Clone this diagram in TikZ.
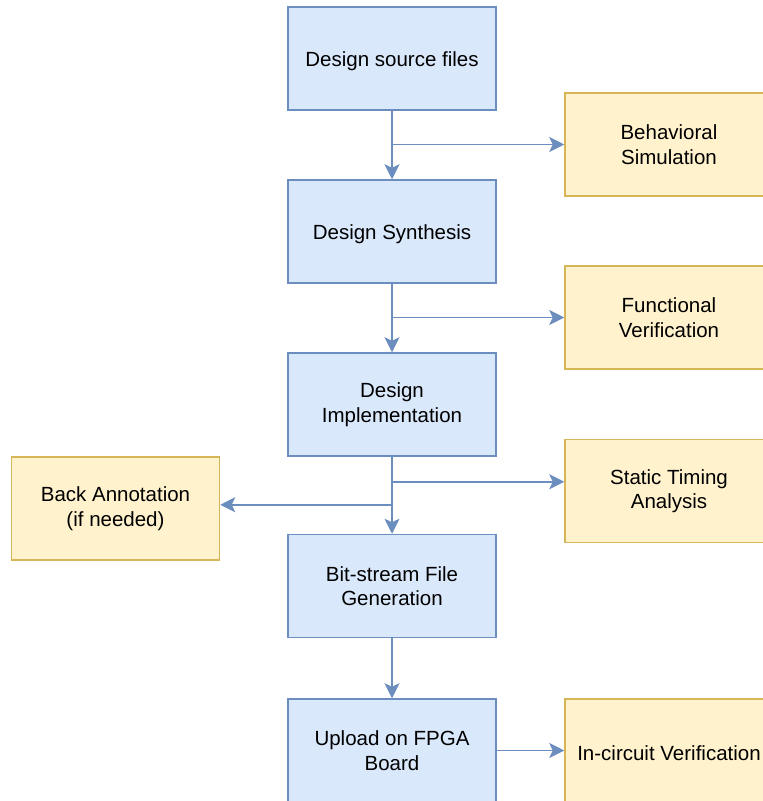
\documentclass[tikz,border=0pt]{standalone}
\usepackage{fontspec}
\setmainfont{Liberation Sans}
\usetikzlibrary{arrows.meta}

\definecolor{stepfill}{HTML}{DAE8FC}
\definecolor{stepline}{HTML}{6C8EBF}
\definecolor{checkfill}{HTML}{FFF2CC}
\definecolor{checkline}{HTML}{D6B656}

\begin{document}
\begin{tikzpicture}[x=1pt, y=-1pt,
    box/.style={minimum width=208pt, minimum height=103pt, line width=1.5pt,
      align=center, font=\fontsize{20.5}{24.5}\selectfont, inner sep=0pt,
      execute at begin node={\rule{0pt}{20.5pt}}},
    flowbox/.style={box, draw=stepline, fill=stepfill},
    checkbox/.style={box, draw=checkline, fill=checkfill},
    flow/.style={draw=stepline, line width=1.8pt,
      -{Stealth[length=15pt, width=15pt, inset=3.5pt]}}]
    \clip (0,0) rectangle (763,801);

    % Main flow
    \node[flowbox] (src)    at (392,58.5)  {Design source files};
    \node[flowbox] (synth)  at (392,231.5) {Design Synthesis};
    \node[flowbox] (impl)   at (392,404.5) {Design\\Implementation};
    \node[flowbox] (bits)   at (392,586)   {Bit-stream File\\Generation};
    \node[flowbox] (upload) at (392,750.5) {Upload on FPGA\\Board};

    % Checks beside the flow
    \node[checkbox] (behav)  at (669,144.5) {Behavioral\\Simulation};
    \node[checkbox] (func)   at (669,317.5) {Functional\\Verification};
    \node[checkbox] (sta)    at (669,491)   {Static Timing\\Analysis};
    \node[checkbox] (incirc) at (669,750.5) {In-circuit Verification};
    \node[checkbox] (back)   at (115.5,508.5) {Back Annotation\\(if needed)};

    % Arrows down the flow
    \draw[flow] (src) -- (synth);
    \draw[flow] (synth) -- (impl);
    \draw[flow] (impl) -- (bits);
    \draw[flow] (bits) -- (upload);

    % Side branches
    \draw[flow] (src.south |- behav.west) -- (behav.west);
    \draw[flow] (synth.south |- func.west) -- (func.west);
    \draw[flow] (impl.south) ++(0,25) coordinate (tap) -- (tap -| sta.west);
    \draw[flow] (impl.south) ++(0,48) coordinate (tapb) -- (tapb -| back.east);
    \draw[flow] (upload) -- (incirc);
\end{tikzpicture}
\end{document}
